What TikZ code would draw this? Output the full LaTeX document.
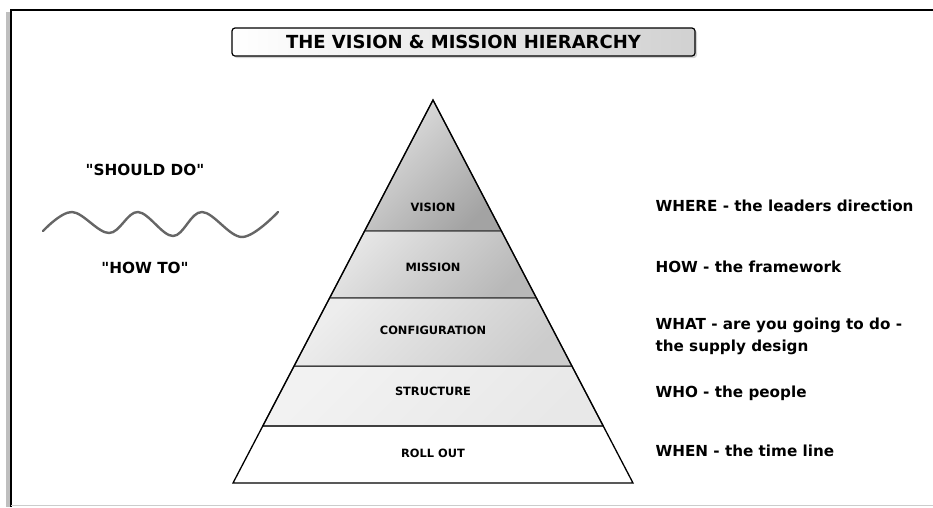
\documentclass[tikz,border=0pt]{standalone}
\usepackage{fontspec}
\setmainfont{DejaVu Sans}[Ligatures=TeXOff]
\usetikzlibrary{calc,shadows}

\begin{document}
\begin{tikzpicture}[x=1pt,y=-1pt,
    layer/.style 2 args={draw=black!75,line width=1.2pt,top color=black!#1,bottom color=black!#2,shading angle=45},
    lbl/.style={font=\bfseries\fontsize{11.4}{13}\selectfont},
    side/.style={font=\bfseries\fontsize{15.2}{22}\selectfont,anchor=west,align=left},
    note/.style={font=\bfseries\fontsize{15.3}{18}\selectfont}]
    \useasboundingbox (0,0) rectangle (933,507);

    % frame
    \fill[black!25] (6,12) rectangle (11,507);
    \draw[line width=1.6pt] (11,507) -- (11,10) -- (933,10);
    \draw[black!20,line width=1pt] (11,505) -- (933,505);

    % title
    \node[draw,line width=1.2pt,rounded corners=3pt,minimum width=463pt,minimum height=28pt,
        left color=white,right color=black!18,drop shadow={opacity=0.35,shadow xshift=2pt,shadow yshift=-2pt},
        font=\bfseries\fontsize{18}{20}\selectfont] (title) at (463.5,42) {THE VISION \& MISSION HIERARCHY};

    \coordinate (A) at (433,100);
    \coordinate (L) at (233,483);
    \coordinate (R) at (633,483);
    \coordinate (L1) at ($(A)!0.342!(L)$);
    \coordinate (R1) at ($(A)!0.342!(R)$);
    \coordinate (L2) at ($(A)!0.517!(L)$);
    \coordinate (R2) at ($(A)!0.517!(R)$);
    \coordinate (L3) at ($(A)!0.695!(L)$);
    \coordinate (R3) at ($(A)!0.695!(R)$);
    \coordinate (L4) at ($(A)!0.851!(L)$);
    \coordinate (R4) at ($(A)!0.851!(R)$);

    % layers, top to bottom
    \path[layer={12}{36}] (A) -- (R1) -- (L1) -- cycle;
    \path[layer={10}{28}] (L1) -- (R1) -- (R2) -- (L2) -- cycle;
    \path[layer={7}{20}] (L2) -- (R2) -- (R3) -- (L3) -- cycle;
    \path[layer={5}{9}] (L3) -- (R3) -- (R4) -- (L4) -- cycle;
    \draw[black!75,line width=1.2pt] (L4) -- (R4);
    \draw[line width=1.3pt,line join=miter] (A) -- (R) -- (L) -- cycle;

    \node[lbl] (vision) at (433,207) {VISION};
    \node[lbl] (mission) at (433,267) {MISSION};
    \node[lbl] (config) at (433,330) {CONFIGURATION};
    \node[lbl] (structure) at (433,391) {STRUCTURE};
    \node[lbl] (rollout) at (433,453) {ROLL OUT};

    \node[side] (where) at (652,206) {WHERE - the leaders direction};
    \node[side] (how) at (652,267) {HOW - the framework};
    \node[side] (what) at (652,336) {WHAT - are you going to do -\\the supply design};
    \node[side] (who) at (652,393) {WHO - the people};
    \node[side] (when) at (652,451) {WHEN - the time line};

    % left side
    \node[note] (should) at (145,170) {"SHOULD DO"};
    \node[note] (howto) at (145,268) {"HOW TO"};
    \draw[black!60,line width=2.4pt,line cap=round] plot[smooth,tension=0.6] coordinates
        {(43,231) (72,212) (109,233) (138,212) (173,236) (202,212) (242,237) (278,212)};
\end{tikzpicture}
\end{document}
